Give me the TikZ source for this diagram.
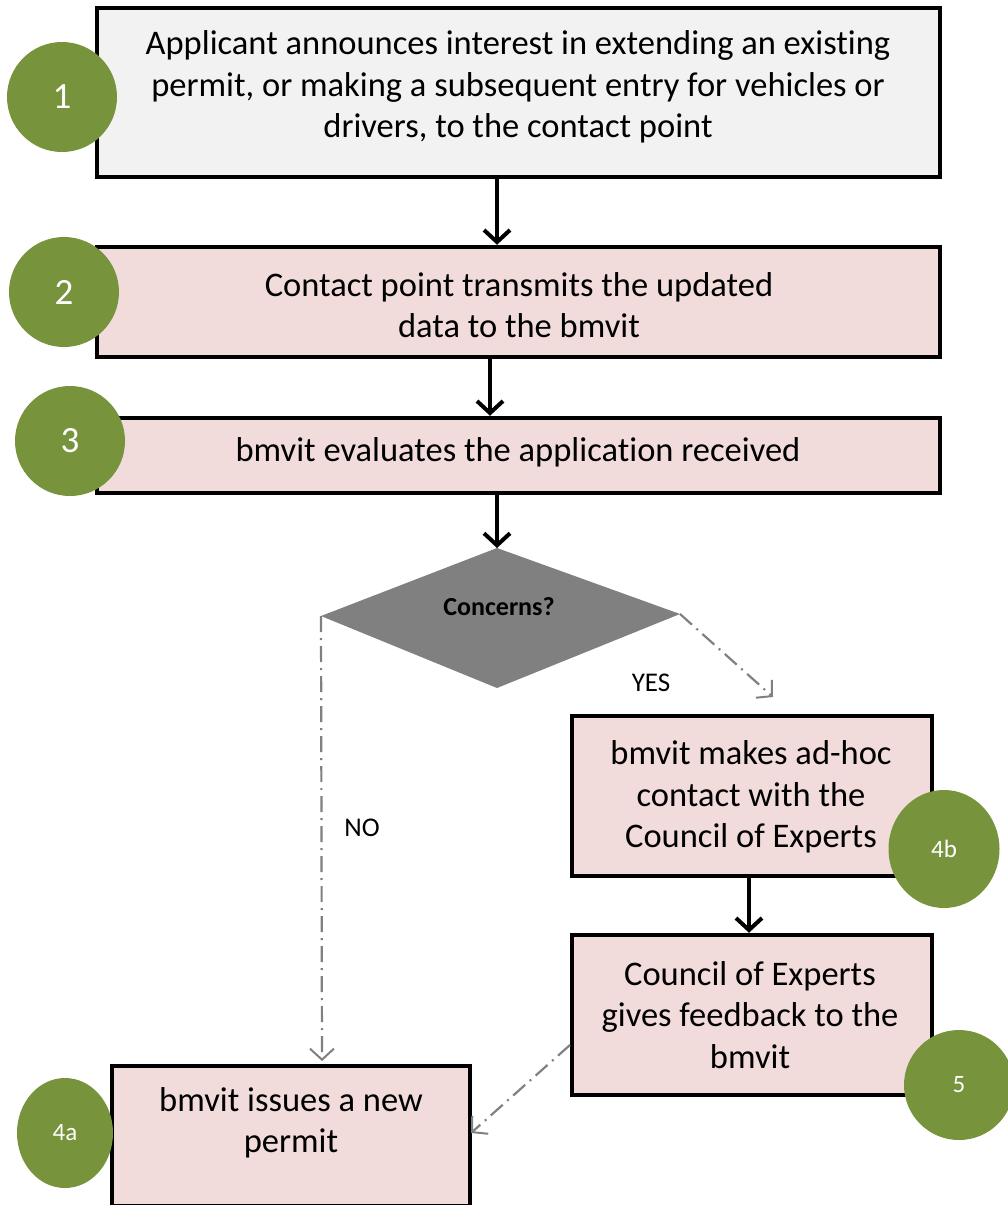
\documentclass[tikz,border=0pt]{standalone}
\usepackage{fontspec}
\setmainfont{Carlito}[Ligatures=NoCommon]
\usetikzlibrary{arrows.meta,shapes.geometric}
\definecolor{boxpink}{HTML}{F2DCDB}
\definecolor{boxgray}{HTML}{F2F2F2}
\definecolor{stepgreen}{HTML}{77933C}
\definecolor{linegray}{HTML}{808080}
\tikzset{
  procbox/.style={draw=black, line width=4.5pt, fill=boxpink, inner sep=0pt},
  bodytext/.style={font=\fontsize{34.5}{41.5}\selectfont, align=center, text=black},
  badge/.style={fill=stepgreen, text=white, inner sep=0pt},
  flowarrow/.style={line width=4pt, -{Straight Barb[length=12pt,width=26pt,line width=4pt]}},
  optarrow/.style={draw=linegray, line width=2.2pt, dash pattern=on 16pt off 6pt on 2pt off 6pt, -{Straight Barb[length=11pt,width=24pt,line width=2pt]}},
  edgelabel/.style={font=\fontsize{27}{30}\selectfont, text=black}
}
\begin{document}
\begin{tikzpicture}[x=1pt,y=-1pt]
\useasboundingbox (0,0) rectangle (1008,1205);
% boxes
\node[procbox, fill=boxgray, minimum width=843pt, minimum height=169pt] (b1) at (518.5,92.5) {};
\node[procbox, minimum width=843pt, minimum height=110pt] (b2) at (518.5,302) {};
\node[procbox, minimum width=843pt, minimum height=75pt] (b3) at (518.5,455.5) {};
\node[procbox, minimum width=360pt, minimum height=160pt] (b4b) at (752,796) {};
\node[procbox, minimum width=360pt, minimum height=160pt] (b5) at (752,1015) {};
\node[procbox, minimum width=358pt, minimum height=140pt] (b4a) at (291,1136) {};
% texts
\node[bodytext] (t1) at (518,87) {Applicant announces interest in extending an existing\\permit, or making a subsequent entry for vehicles or\\drivers, to the contact point};
\node[bodytext] (t2) at (519,305) {Contact point transmits the updated\\data to the bmvit};
\node[bodytext] (t3) at (518,452) {bmvit evaluates the application received};
\node[bodytext] (t4b) at (751,797) {bmvit makes ad-hoc\\contact with the\\Council of Experts};
\node[bodytext] (t5) at (750,1015) {Council of Experts\\gives feedback to the\\bmvit};
\node[bodytext] (t4a) at (291,1123) {bmvit issues a new\\permit};
% diamond
\coordinate (dt) at (497,548);
\coordinate (dl) at (321,616);
\coordinate (dr) at (680,614);
\coordinate (db) at (497,688);
\fill[linegray] (dt) -- (dr) -- (db) -- (dl) -- cycle;
\node[font=\bfseries\fontsize{26}{30}\selectfont] (dq) at (499,607) {Concerns?};
% badges
\node[badge, circle, minimum size=110pt, font=\fontsize{37}{40}\selectfont] (c1) at (62,97) {1};
\node[badge, circle, minimum size=110pt, font=\fontsize{37}{40}\selectfont] (c2) at (64,292) {2};
\node[badge, circle, minimum size=110pt, font=\fontsize{37}{40}\selectfont] (c3) at (70,441) {3};
\node[badge, ellipse, minimum width=111pt, minimum height=118pt, font=\fontsize{25}{28}\selectfont] (c4b) at (944,849) {4b};
\node[badge, circle, minimum size=110pt, font=\fontsize{25}{28}\selectfont] (c5) at (959,1085) {5};
\node[badge, ellipse, minimum width=96pt, minimum height=110pt, font=\fontsize{25}{28}\selectfont] (c4a) at (65,1133) {4a};
% arrows
\draw[flowarrow] (b1.south -| 497,0) -- (b2.north -| 497,0);
\draw[flowarrow] (b2.south -| 490,0) -- (b3.north -| 490,0);
\draw[flowarrow] (b3.south -| 497,0) -- (dt);
\draw[flowarrow] (b4b.south -| 749,0) -- (b5.north -| 749,0);
\coordinate (yesend) at (773,697);
\draw[optarrow] (dr) -- (yesend);
\coordinate (noend) at (322,1061);
\draw[optarrow] (dl) -- (noend);
\coordinate (b5l) at (570,1045);
\coordinate (b4ar) at (471,1133);
\draw[optarrow] (b5l) -- (b4ar);
\node[edgelabel] (yes) at (651,683) {YES};
\node[edgelabel] (no) at (362,828) {NO};
\end{tikzpicture}
\end{document}
